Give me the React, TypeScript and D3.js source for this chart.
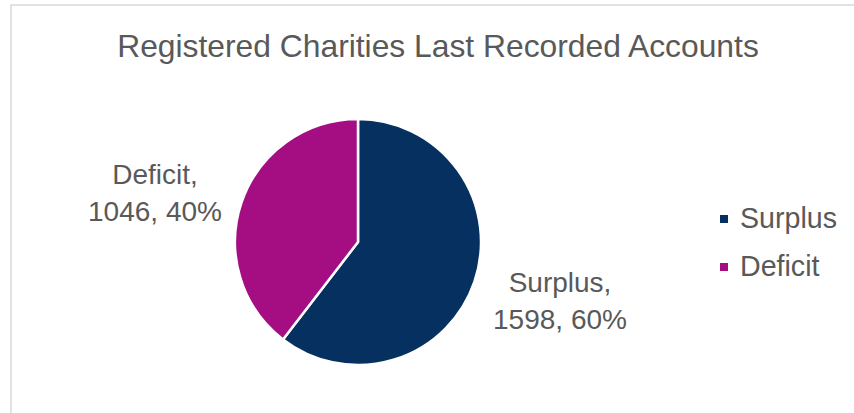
import React from "react";
import * as d3 from "d3";

const categories = ["Surplus", "Deficit"];
const values = [1598, 1046];
const percents = ["60%", "40%"];
const colors = ["#06305F", "#A50E82"];
const title = "Registered Charities Last Recorded Accounts";

export default function App() {
  const W = 854;
  const H = 413;
  const cx = 358;
  const cy = 242;
  const r = 123;
  const pie = d3.pie<number>().sort(null).value((d) => d)(values);
  const arc = d3.arc<d3.PieArcDatum<number>>().innerRadius(0).outerRadius(r);
  const labelPos = [
    { x: 560, y: 292 },
    { x: 155, y: 184 },
  ];
  const font = "'Liberation Sans', Arial, sans-serif";
  const textColor = "#595959";
  return (
    <svg
      width={W}
      height={H}
      style={{ position: "absolute", left: 0, top: 0, display: "block" }}
      fontFamily={font}
    >
      <rect x={0} y={0} width={W} height={H} fill="#fff" />
      <rect x={11} y={5} width={1000} height={600} fill="none" stroke="#D9D9D9" strokeWidth={1.5} />
      <text x={438} y={57} textAnchor="middle" fontSize={31.8} fill={textColor}>
        {title}
      </text>
      <g transform={`translate(${cx},${cy})`}>
        {pie.map((p, i) => (
          <path key={i} d={arc(p) || ""} fill={colors[i]} stroke="#fff" strokeWidth={2.5} strokeLinejoin="round" />
        ))}
      </g>
      {categories.map((c, i) => (
        <text key={c} x={labelPos[i].x} y={labelPos[i].y} textAnchor="middle" fontSize={28} fill={textColor}>
          <tspan x={labelPos[i].x}>{c},</tspan>
          <tspan x={labelPos[i].x} dy={37}>
            {values[i]}, {percents[i]}
          </tspan>
        </text>
      ))}
      {categories.map((c, i) => (
        <g key={c} transform={`translate(720, ${228 + i * 48})`}>
          <rect x={0} y={-13} width={8} height={8} fill={colors[i]} />
          <text x={20} y={0} fontSize={28.6} fill={textColor}>
            {c}
          </text>
        </g>
      ))}
    </svg>
  );
}
